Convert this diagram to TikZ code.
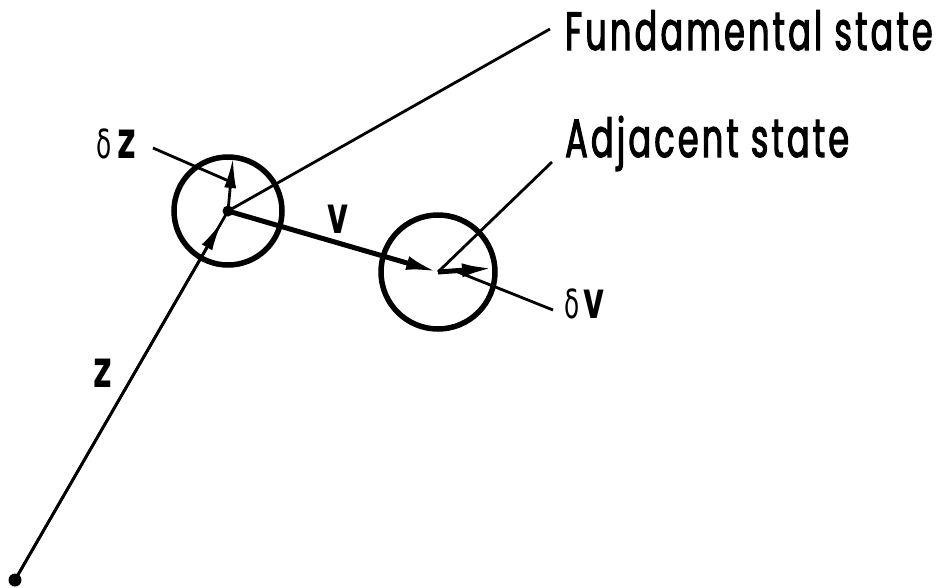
\documentclass[tikz,border=0pt]{standalone}
\usepackage{fontspec}
\setmainfont{Poppins}[FakeStretch=0.62,LetterSpace=6,FakeBold=2]
\newfontfamily\symfont{DejaVu Sans}[FakeStretch=0.62]
\newcommand{\dlt}{{\mdseries\fontsize{40}{42}\selectfont δ}}
\usetikzlibrary{arrows.meta,calc,positioning}

\tikzset{
  thinline/.style={line width=2.8pt},
  vecline/.style={line width=5pt},
  ring/.style={line width=5.5pt},
  tip/.style={-{Latex[length=30pt,width=12pt]}},
  textlbl/.style={inner sep=0pt,anchor=base west,font=\fontsize{54}{60}\selectfont},
  symlbl/.style={inner sep=0pt,font=\symfont\bfseries\fontsize{52}{56}\selectfont},
}

\begin{document}
\begin{tikzpicture}[x=1pt,y=-1pt]
  \useasboundingbox (0,0) rectangle (936,587);
  % state points
  \coordinate (O) at (15,580);
  \coordinate (F) at (228,211);
  \coordinate (A) at (438,272);
  \coordinate (dz) at (233,158);
  \coordinate (dv) at (494,268);
  \coordinate (ztip) at ($(O)!0.972!(F)$);
  % circles round the two states
  \draw[ring] (F) circle (54pt);
  \draw[ring] (A) circle (57pt);
  % vectors
  \draw[thinline] (O) -- (F);
  \draw[thinline,tip] (O) -- (ztip);
  \draw[vecline,-{Latex[length=32pt,width=14pt]}] (F) -- (A);
  \draw[thinline,tip] (F) -- (dz);
  \draw[vecline,-{Latex[length=32pt,width=14pt]}] (A) -- (dv);
  \fill (O) circle (6.5pt);
  \fill (F) circle (5.5pt);
  % labels
  \node[textlbl] (fundlbl) at (565,50) {Fundamental state};
  \node[textlbl] (adjlbl) at (565,157) {Adjacent state};
  \node[symlbl,anchor=base west] (dzlbl) at (96,158) {\dlt\kern6pt z};
  \node[symlbl,anchor=base west] (dvlbl) at (564,318) {\dlt\kern4pt v};
  \node[symlbl] (vlbl) at (338,219) {v};
  \node[symlbl] (zlbl) at (103,373) {z};
  % leaders
  \coordinate (fundend) at (550,29);
  \coordinate (adjend) at (552,162);
  \coordinate (dzend) at (153,148);
  \coordinate (dvend) at (553,310);
  \draw[thinline] (F) -- (fundend);
  \draw[thinline] (A) -- (adjend);
  \draw[thinline] (dzend) -- ($(F)!0.55!(dz)$);
  \draw[thinline] ($(A)!0.3!(dv)$) -- (dvend);
\end{tikzpicture}
\end{document}
